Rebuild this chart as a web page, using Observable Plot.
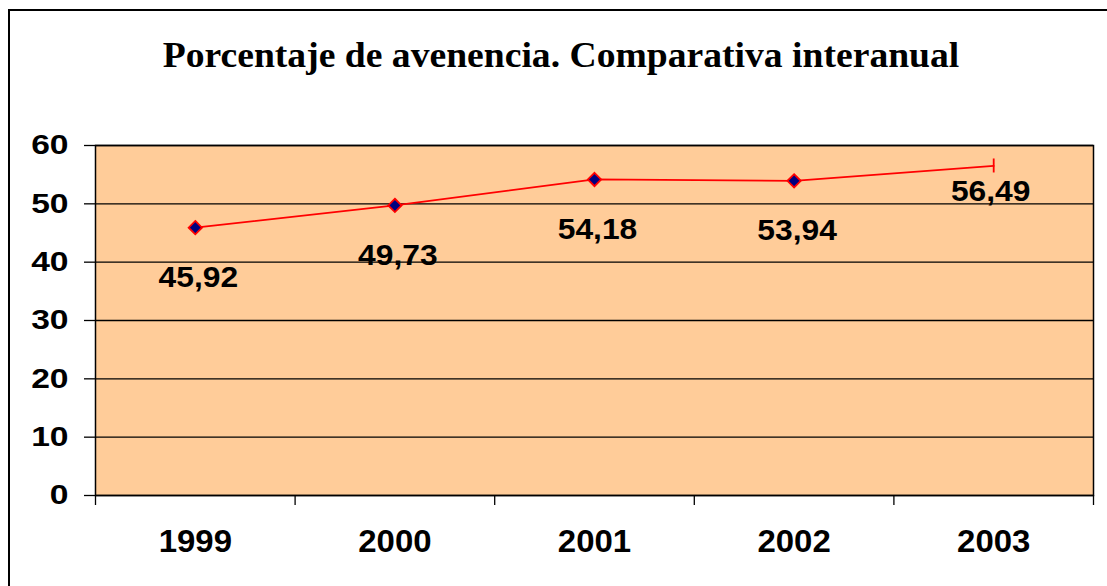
<!DOCTYPE html>
<html>
<head>
<meta charset="utf-8">
<script src="https://cdn.jsdelivr.net/npm/d3@7"></script>
<script src="https://cdn.jsdelivr.net/npm/@observablehq/plot@0.6"></script>
<style>
  html, body { margin: 0; padding: 0; background: #fff; overflow: hidden; }
  #wrap { position: relative; width: 1107px; height: 586px; }
  #frame { position: absolute; left: 8px; top: 9px; width: 1200px; height: 700px; border: 2px solid #000; box-sizing: border-box; }
  #title { position: absolute; left: 0; width: 1122px; top: 38px; text-align: center;
           font-family: "Liberation Serif", "Times New Roman", serif; font-weight: bold; font-size: 35px;
           transform: scaleX(1.075); transform-origin: 561px 0; color: #000; line-height: 1; }
  #chart { position: absolute; left: 0; top: 0; }
</style>
</head>
<body>
<div id="wrap">
  <div id="frame"></div>
  <div id="title">Porcentaje de avenencia. Comparativa interanual</div>
  <div id="chart"></div>
</div>
<script>
const years = ["1999", "2000", "2001", "2002", "2003"];
const values = [45.92, 49.73, 54.18, 53.94, 56.49];
const labels = ["45,92", "49,73", "54,18", "53,94", "56,49"];
const yTicks = [0, 10, 20, 30, 40, 50, 60];

const data = years.map((y, i) => ({ year: y, i, x: i + 0.5, value: values[i], label: labels[i] }));
const withMarker = data.slice(0, 4);
const last = data.slice(4);

const font = '"Liberation Sans", Arial, sans-serif';

const chart = Plot.plot({
  width: 1107,
  height: 586,
  marginLeft: 95,
  marginRight: 14,
  marginTop: 145,
  marginBottom: 91,
  style: { background: "transparent", fontFamily: font, color: "#000", overflow: "visible" },
  x: { type: "linear", domain: [0, years.length] },
  y: { domain: [0, 60] },
  marks: [
    Plot.frame({ fill: "#FFCC99", stroke: "none" }),
    Plot.gridY(yTicks, { stroke: "#000", strokeOpacity: 1, strokeWidth: 1.3 }),
    Plot.frame({ stroke: "#000", strokeWidth: 1.5 }),
    Plot.axisY({ ticks: yTicks, tickSize: 11, tickPadding: 16, fontSize: 28, fontWeight: "bold", strokeWidth: 1.3, label: null, className: "ylab" }),
    Plot.axisX({ ticks: d3.range(0, years.length + 1), tickSize: 10, tickFormat: () => "", strokeWidth: 1.3, label: null }),
    Plot.axisX({ ticks: data.map(d => d.x), tickSize: 0, tickPadding: 34, tickFormat: (v) => years[Math.round(v - 0.5)], fontSize: 32, fontWeight: "bold", label: null, className: "xlab" }),
    Plot.line(data, { x: "x", y: "value", stroke: "#FF0000", strokeWidth: 1.8 }),
    Plot.dot(withMarker, { x: "x", y: "value", symbol: "diamond2", r: 6, fill: "#000080", stroke: "#FF0000", strokeWidth: 1.8 }),
    Plot.ruleX(last, { x: "x", y1: "value", y2: "value", insetTop: -7, insetBottom: -7, stroke: "#FF0000", strokeWidth: 1.8 }),
    Plot.text(withMarker, { x: "x", y: "value", text: "label", dy: 50, dx: 3, fontSize: 30, fontWeight: "bold", fill: "#000", fontFamily: font, className: "dlab" }),
    Plot.text(last, { x: "x", y: "value", text: "label", dy: 25, dx: -3, fontSize: 30, fontWeight: "bold", fill: "#000", fontFamily: font, className: "dlab" })
  ]
});

// Widen glyphs horizontally around their anchor (reference text is horizontally stretched)
function stretch(cls, s) {
  chart.querySelectorAll("." + cls + " text").forEach(t => {
    const ax = parseFloat(t.getAttribute("x")) || 0;
    const prev = t.getAttribute("transform") || "";
    t.setAttribute("transform", `${prev} translate(${ax},0) scale(${s},1) translate(${-ax},0)`);
  });
}
stretch("ylab", 1.2);
stretch("dlab", 1.06);
stretch("xlab", 1.03);

document.getElementById("chart").appendChild(chart);
</script>
</body>
</html>
